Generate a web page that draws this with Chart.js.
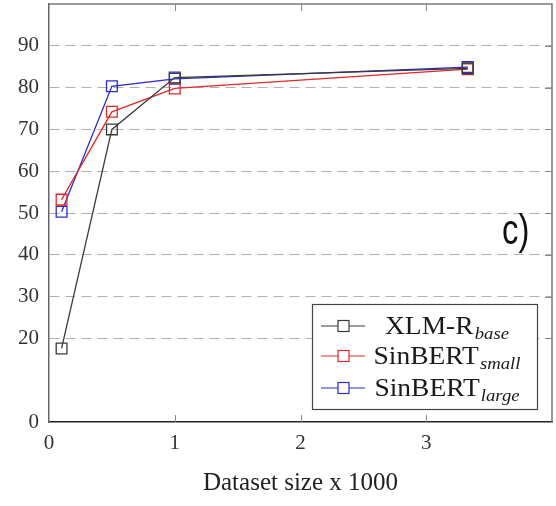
<!DOCTYPE html>
<html>
<head>
<meta charset="utf-8">
<script src="https://cdn.jsdelivr.net/npm/chart.js@4"></script>
<style>
  body { margin: 0; background: #fff; }
  #wrap { width: 556px; height: 506px; }
</style>
</head>
<body>
<div id="wrap"><canvas id="sizeChart"></canvas></div>
<script>
// data
const datasetSizes = [0.1, 0.5, 1, 3.33];
const xlmrBase = [17.6, 70, 82.4, 84.6];
const sinbertSmall = [53.2, 74.2, 79.8, 84.4];
const sinbertLarge = [50.3, 80.3, 82.1, 84.9];
const yTicks = [0, 20, 30, 40, 50, 60, 70, 80, 90];
const xTicks = [0, 1, 2, 3];

const seriesNames = [
    { main: 'XLM-R', sub: 'base' },
    { main: 'SinBERT', sub: 'small' },
    { main: 'SinBERT', sub: 'large' }
];
const seriesColors = ['#3a3a3a', '#e02828', '#2b2bd0'];

const serif = "'Liberation Serif', 'Times New Roman', serif";

function toPoints(values) {
    return values.map((v, i) => ({ x: datasetSizes[i], y: v }));
}

// frame, inner ticks, legend box and panel letter
const decorations = {
    id: 'decorations',
    afterDraw(chart) {
        const { ctx, chartArea: a, scales } = chart;
        ctx.save();

        // top and right frame
        ctx.strokeStyle = '#777';
        ctx.lineWidth = 1.5;
        ctx.beginPath();
        ctx.moveTo(a.left, a.top);
        ctx.lineTo(a.right, a.top);
        ctx.lineTo(a.right, a.bottom);
        ctx.stroke();

        // x tick marks top and bottom
        ctx.strokeStyle = '#888';
        ctx.lineWidth = 1;
        xTicks.slice(1).forEach(v => {
            const px = Math.round(scales.x.getPixelForValue(v)) + 0.5;
            ctx.beginPath();
            ctx.moveTo(px, a.bottom);
            ctx.lineTo(px, a.bottom - 7);
            ctx.moveTo(px, a.top);
            ctx.lineTo(px, a.top + 7);
            ctx.stroke();
        });
        // y tick marks on right edge
        yTicks.slice(1).forEach(v => {
            const py = Math.round(scales.y.getPixelForValue(v)) + 0.5;
            ctx.beginPath();
            ctx.moveTo(a.right, py);
            ctx.lineTo(a.right - 7, py);
            ctx.stroke();
        });

        // panel letter
        ctx.fillStyle = '#111';
        ctx.font = "42px 'Liberation Sans', Arial, sans-serif";
        ctx.textBaseline = 'alphabetic';
        ctx.save();
        ctx.translate(a.right - 50, a.top + 240);
        ctx.scale(0.78, 1);
        ctx.fillText('c)', 0, 0);
        ctx.restore();

        // legend
        const w = 225, h = 105;
        const lx = a.right - 15 - w;
        const ly = a.bottom - 13 - h;
        ctx.fillStyle = '#fff';
        ctx.fillRect(lx, ly, w, h);
        ctx.strokeStyle = '#444';
        ctx.lineWidth = 1.2;
        ctx.strokeRect(lx + 0.5, ly + 0.5, w, h);

        const rows = [22, 52, 84];
        const stretch = 1.1;
        seriesNames.forEach((name, i) => {
            const cy = ly + rows[i];
            ctx.strokeStyle = seriesColors[i];
            ctx.lineWidth = 1.2;
            ctx.beginPath();
            ctx.moveTo(lx + 9, cy);
            ctx.lineTo(lx + 53, cy);
            ctx.stroke();
            ctx.fillStyle = '#fff';
            ctx.fillRect(lx + 26, cy - 5.5, 11, 11);
            ctx.strokeRect(lx + 26, cy - 5.5, 11, 11);

            ctx.font = '25px ' + serif;
            const mw = ctx.measureText(name.main).width;
            ctx.font = 'italic 17px ' + serif;
            const sw = ctx.measureText(name.sub).width;
            const sx = lx + 135 - stretch * (mw + sw + 1) / 2;

            ctx.save();
            ctx.translate(sx, cy);
            ctx.scale(stretch, 1);
            ctx.fillStyle = '#1a1a1a';
            ctx.textBaseline = 'alphabetic';
            ctx.font = '25px ' + serif;
            ctx.fillText(name.main, 0, 8);
            ctx.font = 'italic 17px ' + serif;
            ctx.fillText(name.sub, mw + 1, 13);
            ctx.restore();
        });

        ctx.restore();
    }
};

function makeDataset(label, values, color) {
    return {
        label: label,
        data: toPoints(values),
        borderColor: color,
        backgroundColor: 'rgba(0,0,0,0)',
        borderWidth: 1.3,
        pointStyle: 'rect',
        pointRadius: 7.6,
        pointBorderWidth: 1.3,
        pointBorderColor: color,
        pointBackgroundColor: 'rgba(0,0,0,0)',
        tension: 0
    };
}

new Chart(document.getElementById('sizeChart'), {
    type: 'line',
    data: {
        datasets: [
            makeDataset('XLM-R base', xlmrBase, seriesColors[0]),
            makeDataset('SinBERT small', sinbertSmall, seriesColors[1]),
            makeDataset('SinBERT large', sinbertLarge, seriesColors[2])
        ]
    },
    options: {
        responsive: true,
        maintainAspectRatio: false,
        animation: false,
        layout: { autoPadding: false, padding: { top: 4, right: 4, left: 0, bottom: 0 } },
        plugins: {
            legend: { display: false },
            tooltip: { enabled: false }
        },
        scales: {
            x: {
                type: 'linear',
                min: 0,
                max: 4,
                afterBuildTicks: scale => { scale.ticks = xTicks.map(v => ({ value: v })); },
                afterFit: scale => {
                    scale.height = 84;
                    scale.paddingLeft = 0;
                    scale.paddingRight = 0;
                },
                grid: { display: false },
                border: { display: true, color: '#222', width: 1.5 },
                ticks: {
                    padding: 1,
                    color: '#333',
                    font: { family: serif, size: 21 }
                },
                title: {
                    display: true,
                    text: 'Dataset size x 1000',
                    color: '#222',
                    font: { family: serif, size: 25 },
                    padding: { top: 10, bottom: 8 }
                }
            },
            y: {
                min: 0,
                max: 100,
                afterBuildTicks: scale => { scale.ticks = yTicks.map(v => ({ value: v })); },
                afterFit: scale => {
                    scale.width = 49;
                    scale.paddingTop = 0;
                    scale.paddingBottom = 0;
                },
                grid: {
                    color: c => (c.tick && c.tick.value === 0) ? 'rgba(0,0,0,0)' : '#b0b0b0',
                    lineWidth: 1,
                    drawTicks: false
                },
                border: { display: true, color: '#666', width: 1.5, dash: [10, 6] },
                ticks: {
                    padding: 10,
                    color: '#333',
                    font: { family: serif, size: 21 }
                }
            }
        }
    },
    plugins: [decorations]
});
</script>
</body>
</html>
